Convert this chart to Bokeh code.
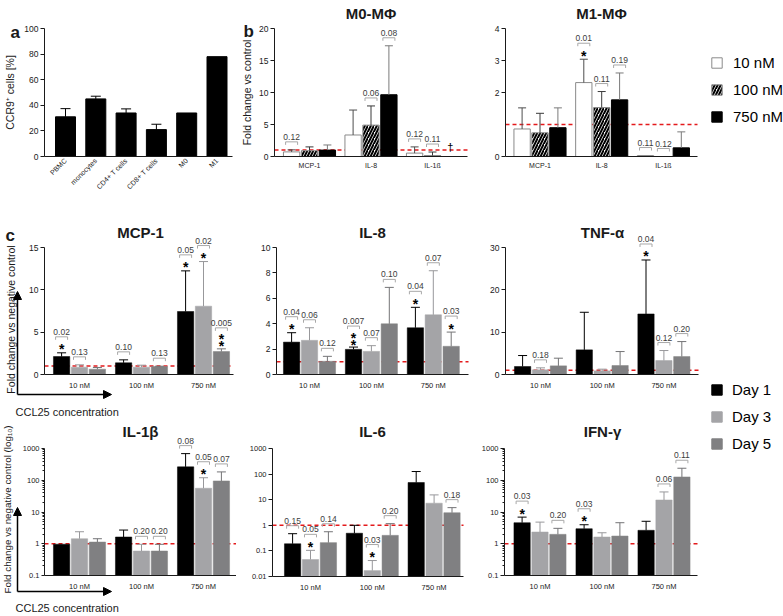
import math
from bokeh.plotting import figure
from bokeh.models import (Range1d, FixedTicker, CustomJSTickFormatter, Whisker,
                          TeeHead, LabelSet, Label, Arrow, NormalHead, ColumnDataSource,
                          Legend, LegendItem)
from bokeh.layouts import row, column
from bokeh.embed import file_html
from bokeh.resources import INLINE
from bokeh.core.properties import value

FONT = "Liberation Sans"
INK = "#1a1a1a"

# ---------------- data ----------------
# panel a
cell_types = ["PBMC", "monocytes", "CD4+ T cells", "CD8+ T cells", "M0", "M1"]
ccr9_pct = [31, 45, 34, 21, 34, 78]
ccr9_sd = [6.4, 2.1, 3.2, 4.2, 0, 0]

# panel b
b_cytokines = ["MCP-1", "IL-8", "IL-1ß"]
b_conc = ["10 nM", "100 nM", "750 nM"]
m0_10 = [0.72, 3.36, 0.53]
m0_10_sd = [0.32, 3.9, 0.97]
m0_100 = [0.9, 4.9, 0.15]
m0_100_sd = [0.6, 3.0, 0.55]
m0_750 = [1.0, 9.65, 0.0]
m0_750_sd = [0.8, 7.65, 0.0]
m0_p = [(0, 0, "0.12", 0), (1, 1, "0.06", 0), (1, 2, "0.08", 0), (2, 0, "0.12", 0), (2, 1, "0.11", 0)]
m0_marks = [(2, 2, "†")]
m1_10 = [0.86, 2.31, 0.03]
m1_10_sd = [0.66, 0.73, 0.0]
m1_100 = [0.74, 1.53, 0.0]
m1_100_sd = [0.61, 0.5, 0.0]
m1_750 = [0.9, 1.77, 0.27]
m1_750_sd = [0.62, 0.84, 0.5]
m1_p = [(1, 0, "0.01", 1), (1, 1, "0.11", 0), (1, 2, "0.19", 0), (2, 0, "0.11", 0), (2, 1, "0.12", 0)]

# panel c
c_conc = ["10 nM", "100 nM", "750 nM"]
days = ["Day 1", "Day 3", "Day 5"]

mcp1_d1 = [2.12, 1.38, 7.44]
mcp1_d1_sd = [0.44, 0.35, 4.8]
mcp1_d3 = [0.87, 0.87, 8.07]
mcp1_d3_sd = [0.27, 0.23, 5.27]
mcp1_d5 = [0.63, 0.94, 2.71]
mcp1_d5_sd = [0.2, 0.04, 0.32]
mcp1_p = [(0, 0, "0.02", 1), (0, 1, "0.13", 0), (1, 0, "0.10", 0), (1, 2, "0.13", 0),
          (2, 0, "0.05", 1), (2, 1, "0.02", 1), (2, 2, "0.005", 2)]

il8_d1 = [2.55, 1.98, 3.68]
il8_d1_sd = [0.74, 0.18, 1.61]
il8_d3 = [2.69, 1.82, 4.70]
il8_d3_sd = [0.99, 0.45, 3.47]
il8_d5 = [1.04, 3.99, 2.22]
il8_d5_sd = [0.39, 2.87, 1.12]
il8_p = [(0, 0, "0.04", 1), (0, 1, "0.06", 0), (0, 2, "0.12", 0), (1, 0, "0.007", 2),
         (1, 1, "0.07", 0), (1, 2, "0.10", 0), (2, 0, "0.04", 1), (2, 1, "0.07", 0), (2, 2, "0.03", 1)]

tnf_d1 = [1.89, 5.82, 14.3]
tnf_d1_sd = [2.59, 8.88, 12.75]
tnf_d3 = [1.1, 0.86, 3.3]
tnf_d3_sd = [0.47, 0.4, 2.36]
tnf_d5 = [2.04, 2.12, 4.24]
tnf_d5_sd = [1.81, 3.3, 3.54]
tnf_p = [(0, 1, "0.18", 0), (2, 0, "0.04", 1), (2, 1, "0.12", 0), (2, 2, "0.20", 0)]

il1b_d1 = [0.97, 1.63, 264]
il1b_d1_sd = [0.0, 1.07, 426]
il1b_d3 = [1.44, 0.59, 56]
il1b_d3_sd = [0.95, 0.37, 64]
il1b_d5 = [1.13, 0.59, 95]
il1b_d5_sd = [0.31, 0.37, 88]
il1b_p = [(1, 1, "0.20", 0), (1, 2, "0.20", 0), (2, 0, "0.08", 0), (2, 1, "0.05", 1), (2, 2, "0.07", 0)]

il6_d1 = [0.19, 0.49, 47]
il6_d1_sd = [0.28, 0.51, 79]
il6_d3 = [0.046, 0.017, 7.3]
il6_d3_sd = [0.059, 0.025, 8.1]
il6_d5 = [0.21, 0.405, 3.1]
il6_d5_sd = [0.35, 0.755, 1.8]
il6_p = [(0, 0, "0.15", 0), (0, 1, "0.05", 1), (0, 2, "0.14", 0), (1, 1, "0.03", 1),
         (1, 2, "0.20", 0), (2, 2, "0.18", 0)]

ifn_d1 = [4.6, 2.97, 2.65]
ifn_d1_sd = [2.3, 1.0, 2.45]
ifn_d3 = [2.34, 1.63, 23.9]
ifn_d3_sd = [2.46, 0.59, 18.9]
ifn_d5 = [1.98, 1.75, 127]
ifn_d5_sd = [1.08, 2.85, 112]
ifn_p = [(0, 0, "0.03", 1), (0, 2, "0.20", 0), (1, 0, "0.03", 1), (2, 1, "0.06", 0), (2, 2, "0.11", 0)]

lin_ticks_a = [0, 20, 40, 60, 80, 100]
log_ticks = [0.01, 0.1, 1, 10, 100, 1000]

# ---------------- geometry (page pixels) ----------------
C1, C2, C3, C4 = (0, 236), (236, 478), (478, 700), (700, 783)
R1, R2, R3 = (0, 214), (214, 416), (416, 616)


class Geo:
    """Plot region inside a figure whose frame fills the whole figure."""

    def __init__(self, col, rw, fl, fr, ft, fb, c0, sp, y0, y1, log=False):
        self.col, self.rw = col, rw
        self.fl, self.fr, self.ft, self.fb = fl, fr, ft, fb
        self.sp = sp
        self.x0 = -(c0 - fl) / sp
        self.x1 = (fr - c0) / sp
        self.y0, self.y1, self.log = y0, y1, log
        cl, cr = col
        rt, rb = rw
        self.fx0 = self.x0 - (fl - cl) / sp
        self.fx1 = self.x1 + (cr - fr) / sp
        self.fy0 = self.yup(y0, -(rb - fb))
        self.fy1 = self.yup(y0, fb - rt)

    def dx(self, px):
        return px / self.sp

    def yup(self, y, px):
        h = self.fb - self.ft
        if self.log:
            k = (math.log10(self.y1) - math.log10(self.y0)) / h
            return y * 10 ** (px * k)
        return y + px * (self.y1 - self.y0) / h

    def at(self, px, py):
        return self.x0 + (px - self.fl) / self.sp, self.yup(self.y0, self.fb - py)

    def figure(self):
        cl, cr = self.col
        rt, rb = self.rw
        p = figure(width=cr - cl, height=rb - rt, title=None,
                   x_range=Range1d(self.fx0, self.fx1),
                   y_range=Range1d(self.fy0, self.fy1),
                   y_axis_type="log" if self.log else "linear",
                   min_border=0, output_backend="svg", toolbar_location=None)
        p.grid.visible = False
        p.outline_line_color = None
        p.xaxis.fixed_location = self.y0
        p.xaxis.bounds = (self.x0, self.x1)
        p.yaxis.fixed_location = self.x0
        p.yaxis.bounds = (self.y0, self.y1)
        return p


def style_axes(p, yticks, xlabels, ylabel=None, yfont="8.5px", xfont="7.5px",
               x_standoff=5, ylab_standoff=3, minor=None, rot=None, tick_out=4):
    for ax in p.axis:
        ax.axis_line_color = INK
        ax.major_tick_line_color = INK
        ax.minor_tick_line_color = None
        ax.major_label_text_font = FONT
        ax.major_label_text_color = INK
        ax.axis_label_text_font = FONT
        ax.axis_label_text_font_style = "normal"
        ax.axis_label_text_font_size = "10.5px"
        ax.axis_label_text_color = INK
    ya = p.yaxis[0]
    ya.ticker = FixedTicker(ticks=yticks, minor_ticks=minor or [])
    ya.formatter = CustomJSTickFormatter(code="return String(tick)")
    ya.major_tick_out = tick_out
    ya.major_tick_in = 0
    ya.major_label_standoff = 2
    ya.major_label_text_font_size = yfont
    if minor:
        ya.minor_tick_line_color = INK
        ya.minor_tick_out = 2
        ya.minor_tick_in = 0
    if ylabel:
        ya.axis_label = ylabel
        ya.axis_label_standoff = ylab_standoff
    xa = p.xaxis[0]
    xa.ticker = FixedTicker(ticks=list(range(len(xlabels))))
    xa.formatter = CustomJSTickFormatter(args=dict(labels=xlabels),
                                         code="return labels[Math.round(tick)] || ''")
    xa.major_tick_out = 0
    xa.major_tick_in = 0
    xa.major_label_standoff = x_standoff
    xa.major_label_text_font_size = xfont
    if rot:
        xa.major_label_orientation = rot


def add_err(p, xs, tops, sds, color, cap=9):
    keep = [(x, t, t + s) for x, t, s in zip(xs, tops, sds) if s > 0]
    if not keep:
        return
    src = ColumnDataSource(dict(x=[k[0] for k in keep], lo=[k[1] for k in keep],
                                hi=[k[2] for k in keep]))
    p.add_layout(Whisker(source=src, base="x", lower="lo", upper="hi", dimension="height",
                         line_color=color, line_width=1, lower_head=None,
                         upper_head=TeeHead(size=cap, line_color=color, line_width=1),
                         level="annotation"))


def add_pvals(p, geo, xs_of, cap_of, plist):
    tx, ty, tt = [], [], []
    sx, sy = [], []
    bx0, bx1, by = [], [], []
    kx, ky0, ky1 = [], [], []
    half = geo.dx(6)
    for g, k, txt, ns in plist:
        x = xs_of(g, k)
        cap = cap_of(g, k)
        if ns == 0:
            bl, tl, stars = 8, 13, []
        elif ns == 1:
            bl, tl, stars = 16, 21, [6.5]
        else:
            bl, tl, stars = 21, 26, [5.5, 12.5]
        yb = geo.yup(cap, bl)
        by.append(yb)
        bx0.append(x - half)
        bx1.append(x + half)
        for xe in (x - half, x + half):
            kx.append(xe)
            ky0.append(geo.yup(cap, bl - 3))
            ky1.append(yb)
        tx.append(x)
        ty.append(geo.yup(cap, tl))
        tt.append(txt)
        for s in stars:
            sx.append(x)
            sy.append(geo.yup(cap, s - 8))
    BR = "#a8a8a8"
    p.add_layout(Whisker(source=ColumnDataSource(dict(y=by, a=bx0, b=bx1)), base="y",
                         lower="a", upper="b", dimension="width", line_color=BR,
                         line_width=1, lower_head=None, upper_head=None, level="annotation"))
    p.add_layout(Whisker(source=ColumnDataSource(dict(x=kx, a=ky0, b=ky1)), base="x",
                         lower="a", upper="b", dimension="height", line_color=BR,
                         line_width=1, lower_head=None, upper_head=None, level="annotation"))
    p.add_layout(LabelSet(source=ColumnDataSource(dict(x=tx, y=ty, t=tt)), x="x", y="y",
                          text="t", text_align="center", text_baseline="middle",
                          text_font=value(FONT), text_font_size="8.5px",
                          text_color="#3c3c3c"))
    if sx:
        p.add_layout(LabelSet(source=ColumnDataSource(dict(x=sx, y=sy, t=["*"] * len(sx))),
                              x="x", y="y", text="t", text_align="center",
                              text_baseline="alphabetic", text_font=value(FONT),
                              text_font_size="14px", text_font_style="bold",
                              text_color="black"))


def add_text(p, geo, px, py, text, size, bold=False, align="left", vertical=False):
    x, y = geo.at(px, py)
    p.add_layout(Label(x=x, y=y, text=text, text_font=FONT, text_font_size=size,
                       text_font_style="bold" if bold else "normal",
                       text_align="center" if vertical else align,
                       text_baseline="middle" if vertical else "alphabetic",
                       angle=math.pi / 2 if vertical else 0, text_color=INK))


def add_arrow(p, geo, p0, p1):
    x0, y0 = geo.at(*p0)
    x1, y1 = geo.at(*p1)
    p.add_layout(Arrow(x_start=x0, y_start=y0, x_end=x1, y_end=y1,
                       end=NormalHead(size=8, fill_color="black", line_color="black",
                                      line_width=1),
                       line_color="black", line_width=1.5))


def red_line(p, geo):
    p.line(x=[geo.x0, geo.x1], y=[1, 1], line_color="#e41a1c", line_dash="4 3",
           line_width=1.5)


# ---------------- panel a ----------------
ga = Geo(C1, R1, 44, 232, 28, 156, 65, 30.3, 0, 100)
pa = ga.figure()
xa = list(range(len(cell_types)))
pa.vbar(x=xa, top=ccr9_pct, bottom=0, width=ga.dx(20), fill_color="black", line_color="black")
add_err(pa, xa, ccr9_pct, ccr9_sd, "black", cap=10)
style_axes(pa, lin_ticks_a, cell_types, ylabel="CCR9⁺ cells [%]", xfont="7px",
           x_standoff=3, ylab_standoff=5, rot=math.pi / 4)
add_text(pa, ga, 10, 32, "a", "17px", bold=True)

# ---------------- panel b ----------------
B_STYLE = [dict(fill_color="white", line_color="#8a8a8a"),
           dict(fill_color="white", line_color="#8a8a8a", hatch_pattern="/",
                hatch_color="black", hatch_weight=2, hatch_scale=6),
           dict(fill_color="black", line_color="black")]
B_ERR = ["#4d4d4d", "#3a3a3a", "#7a7a7a"]


def b_panel(geo, means, sds, plist, yticks, title, tx, ylabel=None, marks=None):
    p = geo.figure()
    pitch = geo.dx(17.9)
    bw = geo.dx(16.3)
    red_line(p, geo)
    for k in range(3):
        xs = [g + (k - 1) * pitch for g in range(len(b_cytokines))]
        p.vbar(x=xs, top=means[k], bottom=0, width=bw, **B_STYLE[k])
        add_err(p, xs, means[k], sds[k], B_ERR[k], cap=8)
    style_axes(p, yticks, b_cytokines, ylabel=ylabel, xfont="7px", x_standoff=5)
    add_pvals(p, geo, lambda g, k: g + (k - 1) * pitch,
              lambda g, k: means[k][g] + sds[k][g], plist)
    if marks:
        p.add_layout(LabelSet(source=ColumnDataSource(dict(
            x=[g + (k - 1) * pitch for g, k, _ in marks],
            y=[geo.yup(0, 10) for _ in marks], t=[m[2] for m in marks])),
            x="x", y="y", text="t", text_align="center", text_baseline="middle",
            text_font=value(FONT), text_font_size="11px", text_color="black"))
    add_text(p, geo, tx, 13, title, "15px", bold=True, align="center")
    return p


gm0 = Geo(C2, R1, 274, 467, 28, 156, 309, 61.5, 0, 20)
pm0 = b_panel(gm0, [m0_10, m0_100, m0_750], [m0_10_sd, m0_100_sd, m0_750_sd], m0_p,
              [0, 5, 10, 15, 20], "M0-MΦ", 370.5, ylabel="Fold change vs control",
              marks=m0_marks)
add_text(pm0, gm0, 243, 31, "b", "17px", bold=True)
gm1 = Geo(C3, R1, 505, 697, 28, 156, 539.5, 61.7, 0, 4)
pm1 = b_panel(gm1, [m1_10, m1_100, m1_750], [m1_10_sd, m1_100_sd, m1_750_sd], m1_p,
              [0, 2, 3, 4], "M1-MΦ", 601)

# ---------------- panel c ----------------
C_FILL = ["#000000", "#a4a4a7", "#808082"]
C_ERR = ["#000000", "#98989b", "#747476"]


def c_panel(geo, means, sds, plist, yticks, title, tx, ty, yfont="8.5px", minor=None,
            tick_out=4):
    p = geo.figure()
    pitch = geo.dx(17.9)
    bw = geo.dx(16.3)
    red_line(p, geo)
    for k in range(3):
        xs = [g + (k - 1) * pitch for g in range(len(c_conc))]
        p.vbar(x=xs, top=means[k], bottom=geo.y0, width=bw, fill_color=C_FILL[k],
               line_color=C_FILL[k], line_width=0.5)
        add_err(p, xs, means[k], sds[k], C_ERR[k], cap=9)
    style_axes(p, yticks, c_conc, yfont=yfont, xfont="7.5px", x_standoff=6,
               minor=minor, tick_out=tick_out)
    add_pvals(p, geo, lambda g, k: g + (k - 1) * pitch,
              lambda g, k: means[k][g] + sds[k][g], plist)
    add_text(p, geo, tx, ty, title, "15px", bold=True, align="center")
    return p


minor_log = [m * 10 ** e for e in range(-1, 3) for m in range(2, 10)]

gmcp = Geo(C1, R2, 44, 233, 247, 374, 79, 62, 0, 15)
pmcp = c_panel(gmcp, [mcp1_d1, mcp1_d3, mcp1_d5], [mcp1_d1_sd, mcp1_d3_sd, mcp1_d5_sd],
               mcp1_p, [0, 5, 10, 15], "MCP-1", 140, 232)
add_text(pmcp, gmcp, 10, 319, "Fold change vs negative control", "10.5px", vertical=True)
add_text(pmcp, gmcp, 5, 235, "c", "17px", bold=True)
add_arrow(pmcp, gmcp, (17, 394), (17, 291))
add_arrow(pmcp, gmcp, (17, 394), (111, 394))
add_text(pmcp, gmcp, 15, 411, "CCL25 concentration", "11px")

gil8 = Geo(C2, R2, 276, 468, 247, 374, 309, 61.9, 0, 10)
pil8 = c_panel(gil8, [il8_d1, il8_d3, il8_d5], [il8_d1_sd, il8_d3_sd, il8_d5_sd], il8_p,
               [0, 2, 4, 6, 8, 10], "IL-8", 372, 232)

gtnf = Geo(C3, R2, 505, 698, 247, 374, 540, 61.7, 0, 30)
ptnf = c_panel(gtnf, [tnf_d1, tnf_d3, tnf_d5], [tnf_d1_sd, tnf_d3_sd, tnf_d5_sd], tnf_p,
               [0, 10, 20, 30], "TNF-α", 602, 232)

gil1b = Geo(C1, R3, 44, 236, 448, 575, 79, 62, 0.1, 1000, log=True)
pil1b = c_panel(gil1b, [il1b_d1, il1b_d3, il1b_d5], [il1b_d1_sd, il1b_d3_sd, il1b_d5_sd],
                il1b_p, [t for t in log_ticks if t >= 0.1], "IL-1β", 140, 431,
                yfont="7.5px", minor=minor_log, tick_out=3)
add_text(pil1b, gil1b, 7, 509, "Fold change vs negative control (log₁₀)", "9.8px",
         vertical=True)
add_arrow(pil1b, gil1b, (17, 591), (17, 507))
add_arrow(pil1b, gil1b, (17, 591), (111, 591))
add_text(pil1b, gil1b, 15, 607, "CCL25 concentration", "11px")

gil6 = Geo(C2, R3, 272, 463, 448, 576, 310, 61.8, 0.01, 1000, log=True)
pil6 = c_panel(gil6, [il6_d1, il6_d3, il6_d5], [il6_d1_sd, il6_d3_sd, il6_d5_sd], il6_p,
               log_ticks, "IL-6", 372, 431, yfont="7.5px")

gifn = Geo(C3, R3, 504, 697, 448, 575, 539.5, 62, 0.1, 1000, log=True)
pifn = c_panel(gifn, [ifn_d1, ifn_d3, ifn_d5], [ifn_d1_sd, ifn_d3_sd, ifn_d5_sd], ifn_p,
               [t for t in log_ticks if t >= 0.1], "IFN-γ", 602, 431, yfont="7.5px",
               minor=minor_log)


# ---------------- legends ----------------
def legend_fig(h, top_border, labels, styles, standoff, spacing):
    p = figure(width=C4[1] - C4[0], height=h, x_range=Range1d(0, 1), y_range=Range1d(0, 1),
               x_axis_type=None, y_axis_type=None, min_border_left=0, min_border_right=0,
               min_border_top=top_border, min_border_bottom=0, title=None,
               output_backend="svg", toolbar_location=None)
    p.outline_line_color = None
    items = []
    for lab, st in zip(labels, styles):
        # a single off-screen bar so that the legend swatch takes its style
        r = p.vbar(x=[-5], top=[-5], bottom=-6, width=1, **st)
        items.append(LegendItem(label=value(lab), renderers=[r]))
    lg = Legend(items=items, location="top_left", margin=10, padding=0, spacing=spacing,
                glyph_width=13, glyph_height=13, label_height=13, label_standoff=standoff,
                label_text_font=FONT, label_text_font_size="15px", label_text_color="black",
                border_line_color=None, background_fill_alpha=0)
    p.add_layout(lg)
    return p


leg1 = legend_fig(R1[1] - R1[0], 44, b_conc, B_STYLE, 10, 10)
leg2 = legend_fig(R3[1] - R2[0], 157, days,
                  [dict(fill_color=c, line_color=c) for c in C_FILL], 9, 10)

layout = row(column(row(pa, pm0, pm1), row(pmcp, pil8, ptnf), row(pil1b, pil6, pifn)),
             column(leg1, leg2))

open("out.html", "w").write(file_html(layout, INLINE))
